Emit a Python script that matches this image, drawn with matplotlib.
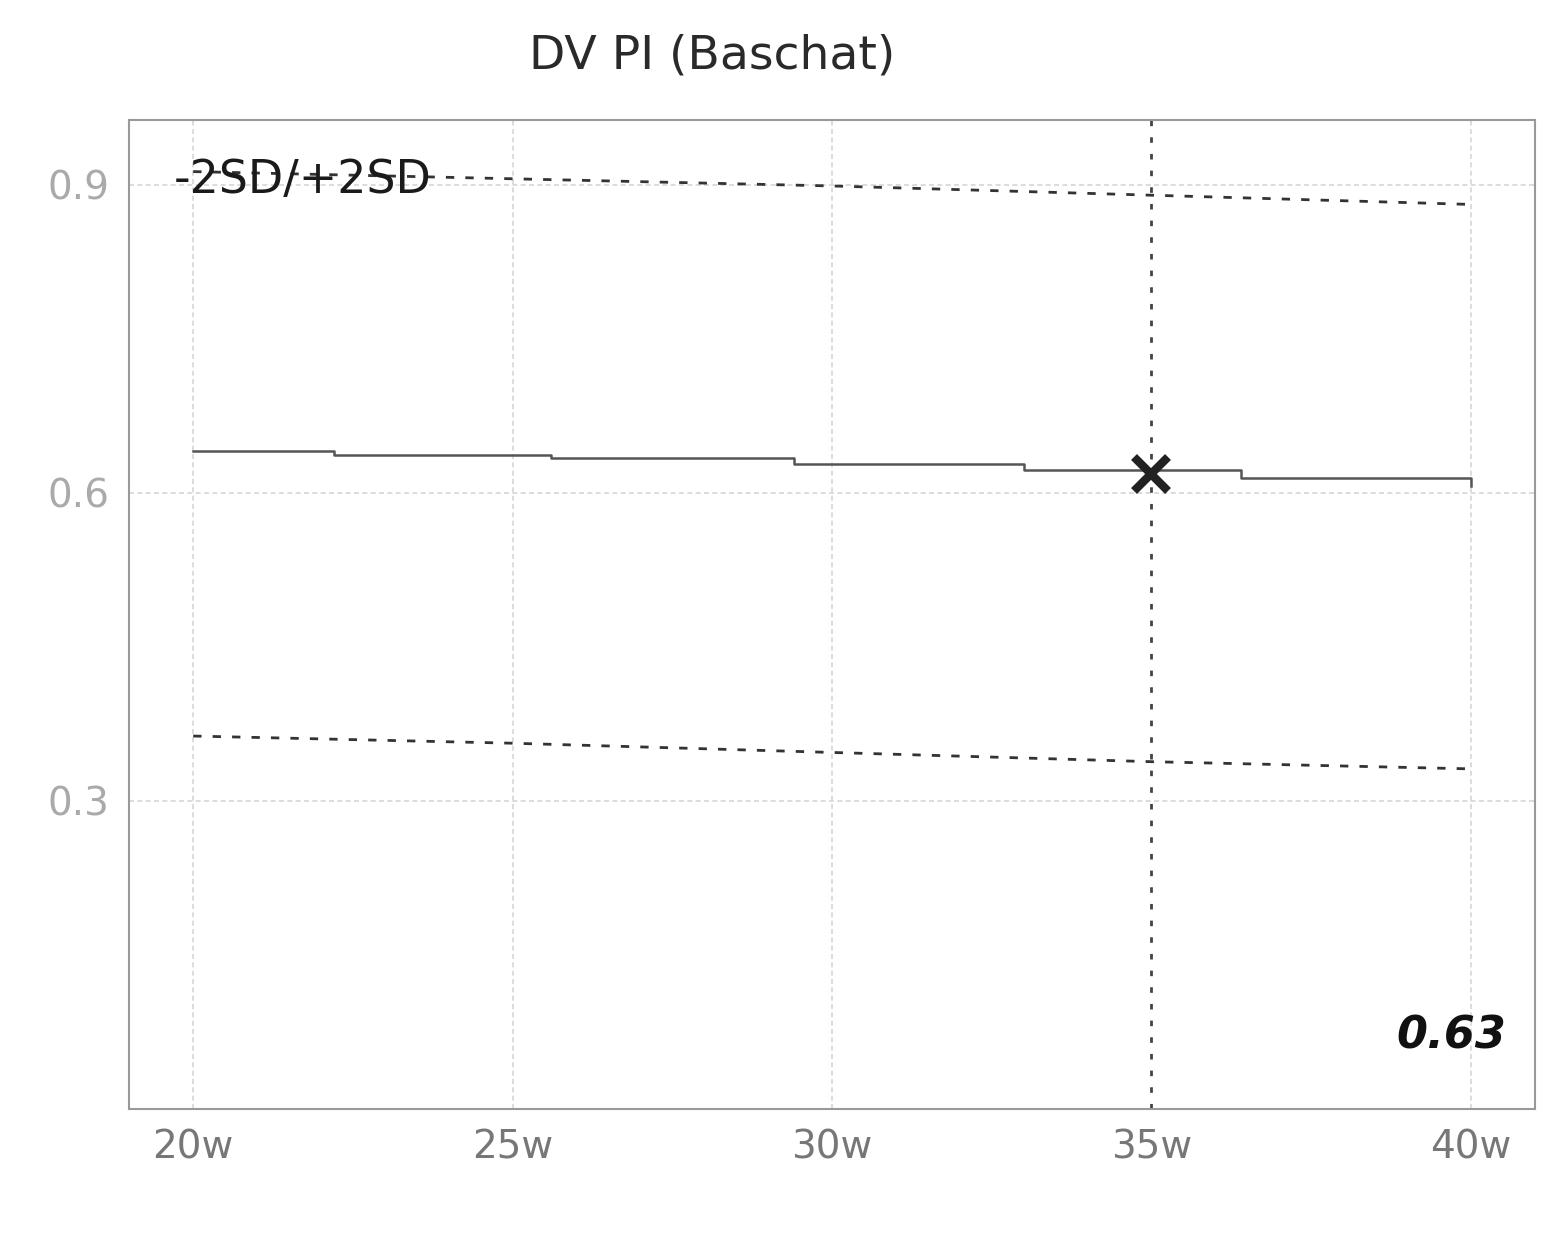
import matplotlib.pyplot as plt
import numpy as np

# DV PI reference curves (Baschat), weeks of gestation
mean_weeks = [20, 22.2, 25.6, 29.4, 33.0, 36.4, 40]
mean_vals = [0.641, 0.637, 0.634, 0.628, 0.622, 0.614, 0.607]

sd_weeks = [20, 25, 30, 35, 40]
upper_vals = [0.913, 0.906, 0.899, 0.890, 0.881]
lower_vals = [0.363, 0.356, 0.347, 0.338, 0.331]

patient_week = 35
patient_val = 0.618
patient_text = "0.63"

xticks = [20, 25, 30, 35, 40]
xlabels = ["20w", "25w", "30w", "35w", "40w"]
yticks = [0.3, 0.6, 0.9]
ylabels = ["0.3", "0.6", "0.9"]

fig = plt.figure(figsize=(15.58, 12.4), dpi=100)
ax = fig.add_axes([0.083, 0.106, 0.902, 0.797])

ax.set_xlim(19.0, 41.0)
ax.set_ylim(0.0, 0.963)

# grid
for x in xticks:
    if x != patient_week:
        ax.axvline(x, color="#d6d6d6", lw=1.2, ls=(0, (3, 2)), zorder=0)
for y in yticks:
    ax.axhline(y, color="#d6d6d6", lw=1.2, ls=(0, (3, 2)), zorder=0)

# mean (stepped) line
ax.plot(mean_weeks, mean_vals, drawstyle="steps-post", color="#555555", lw=1.8, zorder=3)
# +/- 2SD
ax.plot(sd_weeks, upper_vals, color="#333333", lw=2.0, ls=(0, (3, 4)), zorder=3)
ax.plot(sd_weeks, lower_vals, color="#333333", lw=2.0, ls=(0, (3, 4)), zorder=3)

# current week marker
ax.axvline(patient_week, color="#444444", lw=2.0, ls=(0, (2, 4)), zorder=2)
ax.plot([patient_week], [patient_val], marker="x", ms=24, mew=6, color="#222222", zorder=5)

ax.text(19.7, 0.904, "-2SD/+2SD", fontsize=33, fontweight="medium", color="#1a1a1a",
        va="center", ha="left", zorder=4)
ax.text(40.55, 0.05, patient_text, fontsize=32, fontweight="bold", fontstyle="italic",
        color="#111111", ha="right", va="bottom")

fig.text(0.457, 0.955, "DV PI (Baschat)", fontsize=34, color="#2a2a2a", ha="center", va="center")

ax.set_xticks(xticks)
ax.set_xticklabels(xlabels, fontsize=28, color="#777777")
ax.set_yticks(yticks)
ax.set_yticklabels(ylabels, fontsize=28, color="#aaaaaa")
ax.tick_params(length=0, pad=14)

for s in ax.spines.values():
    s.set_color("#999999")
    s.set_linewidth(1.5)

fig.savefig("out.png", dpi=100, facecolor="white")
